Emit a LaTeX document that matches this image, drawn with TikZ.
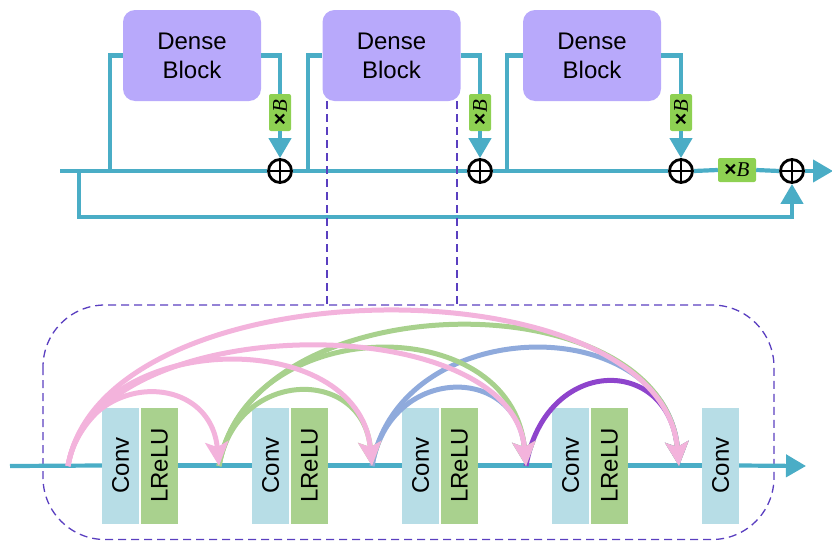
\documentclass[tikz,border=0pt]{standalone}
\usepackage{fontspec}
\usepackage{graphicx}
\setmainfont{Liberation Sans}
\newfontfamily\varfont{Liberation Serif}
\usetikzlibrary{arrows.meta}

\definecolor{flow}{HTML}{4AADC6}
\definecolor{blockfill}{HTML}{B8A9FB}
\definecolor{scalefill}{HTML}{8ED152}
\definecolor{convfill}{HTML}{B7DDE6}
\definecolor{actfill}{HTML}{A9D18E}
\definecolor{arcpink}{HTML}{F3B3DC}
\definecolor{arcgreen}{HTML}{A8D18D}
\definecolor{arcblue}{HTML}{8FAADC}
\definecolor{arcpurple}{HTML}{8E44CC}
\definecolor{zoomline}{HTML}{5A3FC0}

\tikzset{
  flowline/.style={draw=flow, line width=4.2pt},
  flowarrow/.style={flowline, -{Triangle[length=20pt,width=22pt]}},
  denseblock/.style={fill=blockfill, rounded corners=12pt, minimum width=138pt,
    minimum height=91pt, align=center, inner sep=0pt,
    font=\fontsize{24}{29}\selectfont},
  scalebox/.style={fill=scalefill, rounded corners=2pt, inner sep=0pt,
    font=\fontsize{21}{21}\selectfont},
  sumnode/.style={circle, draw=black, line width=2.8pt, fill=white,
    minimum size=23pt, inner sep=0pt,
    path picture={
      \draw[black, line width=2.8pt]
        (path picture bounding box.north) -- (path picture bounding box.south)
        (path picture bounding box.west) -- (path picture bounding box.east);}},
  layerbox/.style={minimum width=37pt, minimum height=116pt, inner sep=0pt,
    font=\fontsize{24}{24}\selectfont},
  convbox/.style={layerbox, fill=convfill},
  actbox/.style={layerbox, fill=actfill},
  skiparc/.style={line width=5pt, -{Stealth[length=24pt,width=23pt,inset=5pt]}},
  zoomguide/.style={draw=zoomline, line width=1.3pt, dash pattern=on 8pt off 5pt}
}

\newcommand{\timesB}{\textbf{\texttimes}{\varfont\itshape B}}

\begin{document}
\begin{tikzpicture}[x=1pt, y=-1pt]
\useasboundingbox (0,0) rectangle (832,541);

% ---------------- upper chain of dense blocks ----------------
\node[denseblock] (blk1) at (192,55.5) {Dense\\Block};
\node[denseblock] (blk2) at (391.5,55.5) {Dense\\Block};
\node[denseblock] (blk3) at (592,55.5) {Dense\\Block};

\node[scalebox, minimum width=22pt, minimum height=37pt] (sc1) at (280,112.5) {\rotatebox{90}{\timesB}};
\node[scalebox, minimum width=22pt, minimum height=37pt] (sc2) at (480,112.5) {\rotatebox{90}{\timesB}};
\node[scalebox, minimum width=22pt, minimum height=37pt] (sc3) at (681,112.5) {\rotatebox{90}{\timesB}};
\node[scalebox, minimum width=38pt, minimum height=24pt] (sc4) at (737,170) {\timesB};

\node[sumnode] (p1) at (280,171) {};
\node[sumnode] (p2) at (480,171) {};
\node[sumnode] (p3) at (681,171) {};
\node[sumnode] (p4) at (792,171) {};

\coordinate (in) at (60,171);
\coordinate (out) at (833,171);
\coordinate (byp) at (79,171);
\coordinate (bypdown) at (79,217);
\coordinate (s1) at (110,171);
\coordinate (s2) at (308,171);
\coordinate (s3) at (507,171);

% trunk
\draw[flowline] (in) -- (p1.west);
\draw[flowline] (p1.east) -- (p2.west);
\draw[flowline] (p2.east) -- (p3.west);
\draw[flowline] (p3.east) -- (sc4.west);
\draw[flowline] (sc4.east) -- (p4.west);
\draw[flowarrow] (p4.east) -- (out);

% global bypass
\draw[flowarrow] (byp) -- (bypdown) -| (p4.south);

% block branches
\draw[flowline] (s1) |- (blk1.west);
\draw[flowline] (s2) |- (blk2.west);
\draw[flowline] (s3) |- (blk3.west);
\draw[flowline] (blk1.east) -| (sc1.north);
\draw[flowline] (blk2.east) -| (sc2.north);
\draw[flowline] (blk3.east) -| (sc3.north);
\draw[flowarrow] (sc1.south) -- (p1.north);
\draw[flowarrow] (sc2.south) -- (p2.north);
\draw[flowarrow] (sc3.south) -- (p3.north);

% ---------------- expanded dense block ----------------
\coordinate (gl) at (327,101);
\coordinate (gr) at (457,101);
\coordinate (glb) at (327,305);
\coordinate (grb) at (457,305);
\draw[zoomguide] (gl) -- (glb);
\draw[zoomguide] (gr) -- (grb);
\draw[zoomguide, rounded corners=62pt] (43,305) rectangle (774,539.5);

\node[convbox] (c1) at (120.5,465.5) {\rotatebox{90}{Conv}};
\node[actbox]  (a1) at (159.5,465.5) {\rotatebox{90}{LReLU}};
\node[convbox] (c2) at (270.5,465.5) {\rotatebox{90}{Conv}};
\node[actbox]  (a2) at (309.5,465.5) {\rotatebox{90}{LReLU}};
\node[convbox] (c3) at (420.5,465.5) {\rotatebox{90}{Conv}};
\node[actbox]  (a3) at (459.5,465.5) {\rotatebox{90}{LReLU}};
\node[convbox] (c4) at (570.5,465.5) {\rotatebox{90}{Conv}};
\node[actbox]  (a4) at (609.5,465.5) {\rotatebox{90}{LReLU}};
\node[convbox] (c5) at (720.5,465.5) {\rotatebox{90}{Conv}};

\coordinate (lin) at (10,466);
\coordinate (lout) at (806,466);
\draw[flowline] (lin) -- (c1.west);
\draw[flowline] (a1.east) -- (c2.west);
\draw[flowline] (a2.east) -- (c3.west);
\draw[flowline] (a3.east) -- (c4.west);
\draw[flowline] (a4.east) -- (c5.west);
\draw[flowarrow] (c5.east) -- (lout);

% dense connections
\coordinate (j0) at (68,466);
\coordinate (j1) at (219,466);
\coordinate (j2) at (372,466);
\coordinate (j3) at (526,466);
\coordinate (j4) at (679,466);

\draw[skiparc, arcpurple] (j3) .. controls +(19,-110) and +(-10,-112) .. (j4);

\draw[skiparc, arcblue] (j2) .. controls +(17,-101) and +(-9,-103) .. (j3);
\draw[skiparc, arcblue] (j2) .. controls +(27,-154) and +(-14,-157) .. (j4);

\draw[skiparc, arcgreen] (j1) .. controls +(17,-98) and +(-9,-100) .. (j2);
\draw[skiparc, arcgreen] (j1) .. controls +(27,-154) and +(-14,-157) .. (j3);
\draw[skiparc, arcgreen] (j1) .. controls +(32,-184) and +(-17,-188) .. (j4);

\draw[skiparc, arcpink] (j0) .. controls +(16.5,-95) and +(-9,-97) .. (j1);
\draw[skiparc, arcpink] (j0) .. controls +(24,-138) and +(-13,-141) .. (j2);
\draw[skiparc, arcpink] (j0) .. controls +(27,-157) and +(-14,-160) .. (j3);
\draw[skiparc, arcpink] (j0) .. controls +(35,-203) and +(-19,-207) .. (j4);
\end{tikzpicture}
\end{document}
